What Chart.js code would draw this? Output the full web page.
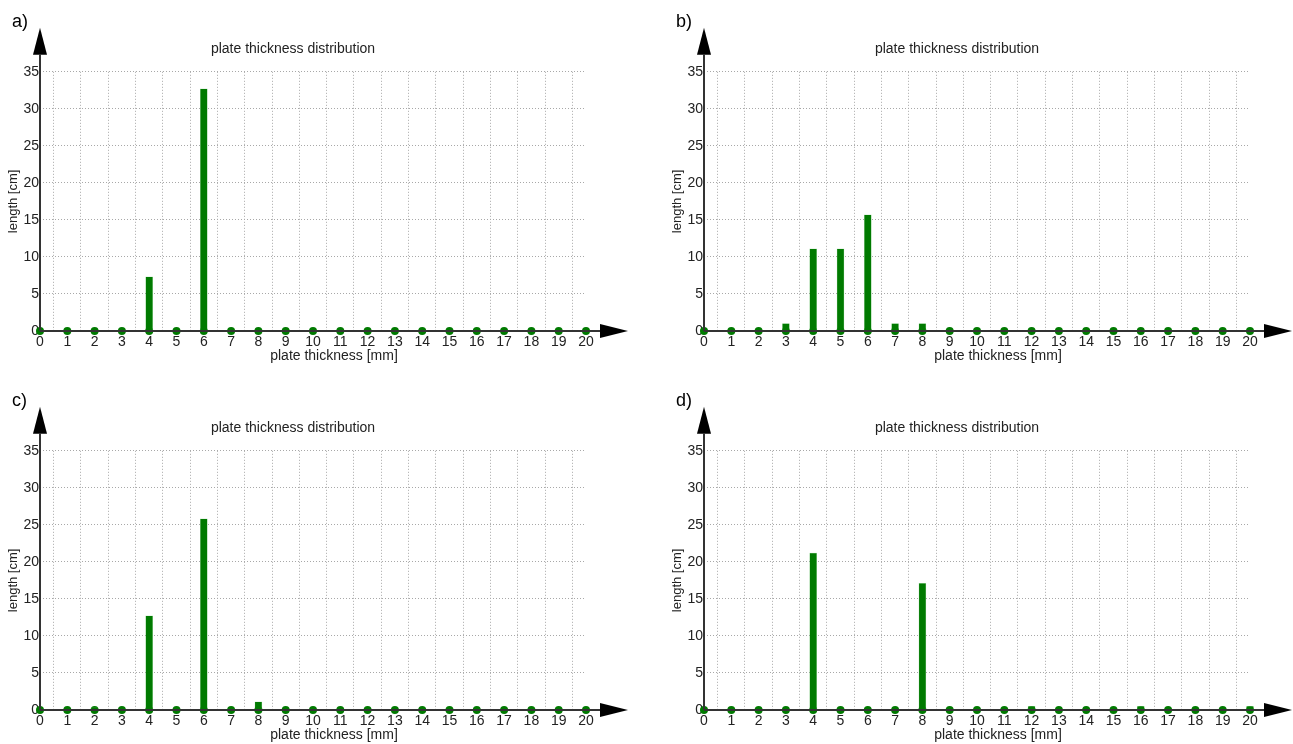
<!DOCTYPE html>
<html>
<head>
<meta charset="utf-8">
<script src="https://cdn.jsdelivr.net/npm/chart.js@4/dist/chart.umd.min.js"></script>
<style>
  body { margin: 0; background: #fff; width: 1293px; height: 744px; position: relative; overflow: hidden; }
  .panel { position: absolute; }
</style>
</head>
<body>
<div class="panel" style="left:0;top:0;width:629px;height:372px"><canvas id="pa"></canvas></div>
<div class="panel" style="left:664px;top:0;width:629px;height:372px"><canvas id="pb"></canvas></div>
<div class="panel" style="left:0;top:379px;width:629px;height:365px;overflow:hidden"><div style="width:629px;height:372px;position:relative"><canvas id="pc"></canvas></div></div>
<div class="panel" style="left:664px;top:379px;width:629px;height:365px;overflow:hidden"><div style="width:629px;height:372px;position:relative"><canvas id="pd"></canvas></div></div>
<script>
// plate thickness [mm]
var thickness = [0,1,2,3,4,5,6,7,8,9,10,11,12,13,14,15,16,17,18,19,20];
// length [cm] for each thickness
var length_a = [0,0,0,0,7.3,0,32.7,0,0,0,0,0,0,0,0,0,0,0,0,0,0];
var length_b = [0,0,0,1.0,11.1,11.1,15.7,1.0,1.0,0,0,0,0,0,0,0,0,0,0,0,0];
var length_c = [0,0,0.3,0,12.7,0,25.8,0,1.1,0,0,0,0,0,0,0,0,0,0,0,0];
var length_d = [0,0,0,0,21.2,0,0,0,17.1,0,0,0,0.5,0,0,0,0.5,0,0,0,0.5];
var y_ticks = [0,5,10,15,20,25,30,35];

var fonte = 'Arial, "Liberation Sans", sans-serif';
var verde = '#007a00';

var eixos_com_setas = {
    id: 'eixos_com_setas',
    afterDatasetsDraw: function(chart, args, opts) {
        var ctx = chart.ctx;
        var x = chart.scales.x, y = chart.scales.y;
        var x0 = x.getPixelForValue(0), y0 = y.getPixelForValue(0);
        var xfim = x.right + 14, ytopo = y.top - 17;
        ctx.save();
        ctx.strokeStyle = '#333';
        ctx.lineWidth = 2;
        ctx.beginPath();
        ctx.moveTo(x0, y0); ctx.lineTo(x0, ytopo);
        ctx.moveTo(x0, y0); ctx.lineTo(xfim, y0);
        ctx.stroke();
        ctx.fillStyle = '#000';
        ctx.beginPath();
        ctx.moveTo(x0, ytopo - 27); ctx.lineTo(x0 - 7, ytopo); ctx.lineTo(x0 + 7, ytopo);
        ctx.closePath(); ctx.fill();
        ctx.beginPath();
        ctx.moveTo(xfim + 28, y0); ctx.lineTo(xfim, y0 - 7); ctx.lineTo(xfim, y0 + 7);
        ctx.closePath(); ctx.fill();
        ctx.restore();
    },
    afterDraw: function(chart, args, opts) {
        var ctx = chart.ctx;
        var x = chart.scales.x, y = chart.scales.y;
        ctx.save();
        ctx.fillStyle = '#000';
        ctx.font = '18px ' + fonte;
        ctx.textAlign = 'left';
        ctx.textBaseline = 'alphabetic';
        ctx.fillText(opts.letra, 12, 27);
        ctx.fillStyle = '#222';
        ctx.font = '14px ' + fonte;
        ctx.textAlign = 'center';
        ctx.textBaseline = 'middle';
        ctx.fillText('plate thickness [mm]', (x.left + x.right + 42) / 2, y.bottom + 25);
        ctx.restore();
    }
};

function inicializar_grafico(id, letra, valores) {
    var barras = thickness.map(function(t, i) { return { x: t, y: valores[i] }; });
    var pontos = thickness.map(function(t) { return { x: t, y: 0 }; });

    new Chart(document.getElementById(id), {
        type: 'bar',
        data: {
            datasets: [
                {
                    type: 'scatter',
                    data: pontos,
                    pointRadius: 4,
                    pointBackgroundColor: verde,
                    pointBorderWidth: 0,
                    clip: false,
                    order: 2
                },
                {
                    data: barras,
                    backgroundColor: verde,
                    borderColor: 'rgba(120,200,120,0.6)',
                    borderWidth: 0.5,
                    barThickness: 7,
                    clip: false,
                    order: 1
                }
            ]
        },
        options: {
            responsive: true,
            maintainAspectRatio: false,
            animation: false,
            layout: { padding: { left: 0, right: 43, top: 0, bottom: 0 } },
            plugins: {
                legend: { display: false },
                tooltip: { enabled: false },
                title: {
                    display: true,
                    text: 'plate thickness distribution',
                    color: '#222',
                    font: { family: fonte, size: 14, weight: 'normal' },
                    padding: { top: 41, bottom: 14 }
                },
                eixos_com_setas: { letra: letra }
            },
            scales: {
                x: {
                    type: 'linear',
                    min: 0, max: 20,
                    offset: false,
                    border: { display: false, dash: [1, 2] },
                    grid: { color: '#a8a8a8', drawTicks: false, lineWidth: 1 },
                    ticks: {
                        stepSize: 1,
                        autoSkip: false,
                        maxRotation: 0,
                        padding: 3,
                        color: '#222',
                        font: { family: fonte, size: 14 }
                    },
                    afterFit: function(s) { s.height = 41; }
                },
                y: {
                    min: 0, max: 35,
                    border: { display: false, dash: [1, 2] },
                    grid: { color: '#a8a8a8', drawTicks: false, lineWidth: 1 },
                    afterBuildTicks: function(s) { s.ticks = y_ticks.map(function(v) { return { value: v }; }); },
                    ticks: {
                        padding: 1,
                        color: '#222',
                        font: { family: fonte, size: 14 }
                    },
                    title: {
                        display: true,
                        text: 'length [cm]',
                        color: '#222',
                        font: { family: fonte, size: 13 },
                        padding: { top: 6, bottom: 0 }
                    },
                    afterFit: function(s) { s.width = 40; }
                }
            }
        },
        plugins: [eixos_com_setas]
    });
}

inicializar_grafico('pa', 'a)', length_a);
inicializar_grafico('pb', 'b)', length_b);
inicializar_grafico('pc', 'c)', length_c);
inicializar_grafico('pd', 'd)', length_d);
</script>
</body>
</html>
